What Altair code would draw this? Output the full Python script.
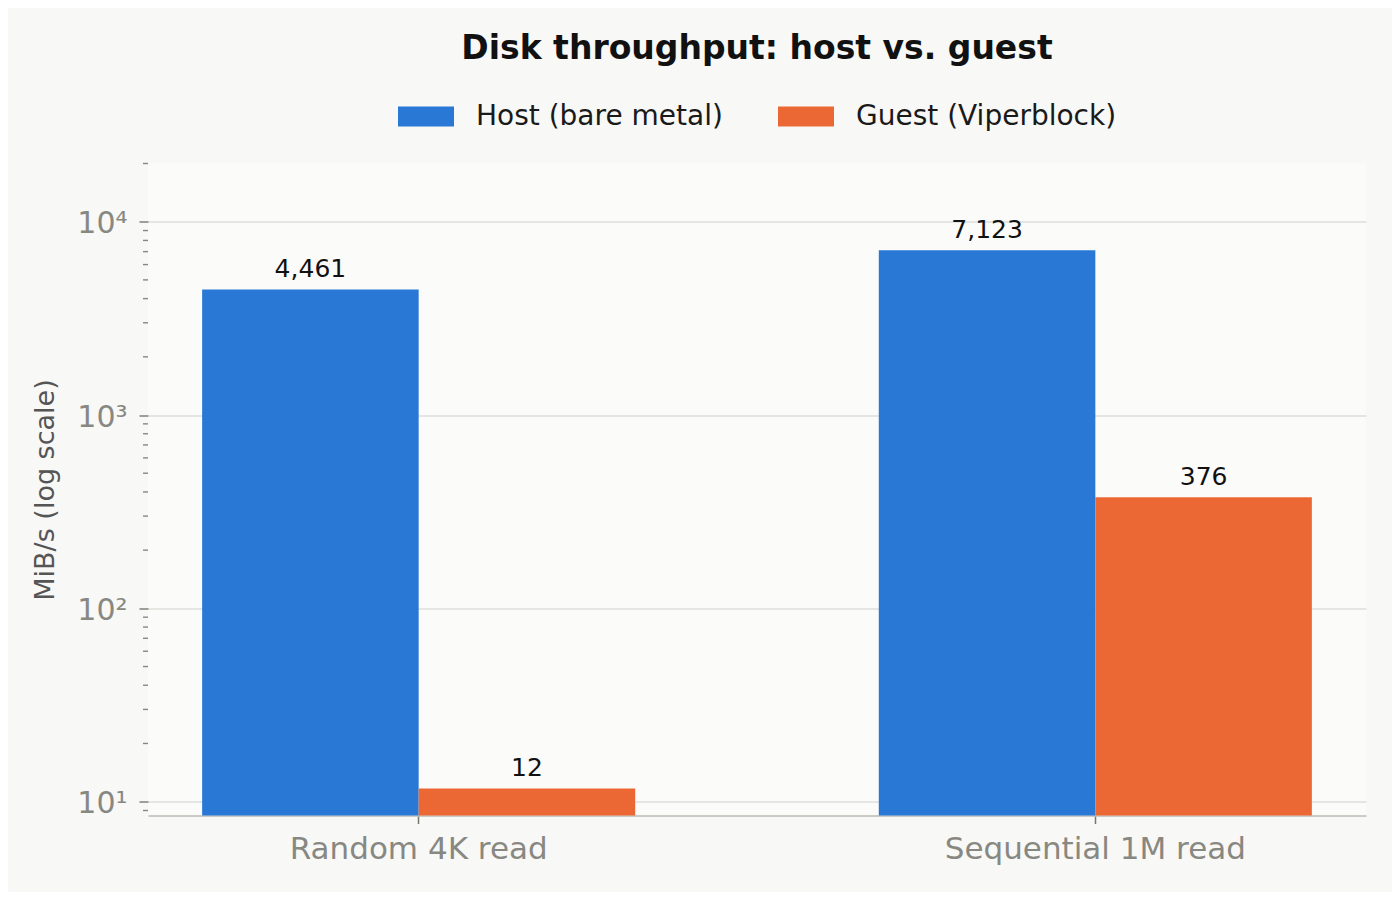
import pandas as pd
import altair as alt

# values
categories = ["Random 4K read", "Sequential 1M read"]
host_mib = [4461, 7123]
guest_mib = [11.7, 376]
series_names = ["Host (bare metal)", "Guest (Viperblock)"]
series_colors = ["#2978D6", "#EB6835"]

y_min, y_max = 8.48, 20000
major_ticks = [10, 100, 1000, 10000]
minor_ticks = [9, 20, 30, 40, 50, 60, 70, 80, 90,
               200, 300, 400, 500, 600, 700, 800, 900,
               2000, 3000, 4000, 5000, 6000, 7000, 8000, 9000, 20000]

FONT = "DejaVu Sans"

rows = []
for i, cat in enumerate(categories):
    rows.append({"test": cat, "series": series_names[0], "mib": host_mib[i]})
    rows.append({"test": cat, "series": series_names[1], "mib": guest_mib[i]})
data = pd.DataFrame(rows)
minor = pd.DataFrame({"v": minor_ticks})

y_scale = alt.Scale(type="log", domain=[y_min, y_max], nice=False)

x_enc = alt.X("test:N", sort=categories, title=None,
              scale=alt.Scale(paddingInner=0.36, paddingOuter=0.08),
              axis=alt.Axis(labelAngle=0, labelFontSize=31, labelColor="#888882",
                            labelFont=FONT, labelPadding=11, labelLimit=0,
                            domainColor="#BDBDB5", domainWidth=1.6,
                            tickColor="#77776F", tickSize=8, tickWidth=1.5,
                            grid=False))
xoff_enc = alt.XOffset("series:N", sort=series_names,
                       scale=alt.Scale(paddingInner=0, paddingOuter=0))

bars = alt.Chart(data).mark_bar().encode(
    x=x_enc,
    xOffset=xoff_enc,
    y=alt.Y("mib:Q", scale=y_scale, title="MiB/s (log scale)",
            axis=alt.Axis(values=major_ticks,
                          labelExpr="'10' + ['⁰','¹','²','³','⁴','⁵'][round(log(datum.value) / LN10)]",
                          labelFontSize=30, labelColor="#888882", labelFont=FONT,
                          labelPadding=12, labelOffset=2,
                          titleFontSize=27, titleColor="#555555", titleFont=FONT,
                          titleFontWeight="normal", titlePadding=17,
                          domain=False, tickColor="#888882", tickSize=9, tickWidth=1.6,
                          grid=True, gridColor="#DEDED9", gridWidth=1.5)),
    y2=alt.Y2(datum=y_min),
    color=alt.Color("series:N", sort=series_names,
                    scale=alt.Scale(domain=series_names, range=series_colors),
                    legend=alt.Legend(title=None, orient="none", direction="horizontal",
                                      legendX=250, legendY=-75,
                                      symbolType="M-1,-0.357H1V0.357H-1Z",
                                      symbolSize=3136, symbolStrokeWidth=0,
                                      symbolOpacity=1, labelLimit=0,
                                      labelFontSize=28, labelFont=FONT,
                                      labelColor="#1A1A1A", labelOffset=22,
                                      columnPadding=55)),
)

labels = alt.Chart(data).mark_text(
    baseline="alphabetic", dy=-12, fontSize=25, font=FONT, color="#111111"
).encode(
    x=alt.X("test:N", sort=categories),
    xOffset=xoff_enc,
    y=alt.Y("mib:Q", scale=y_scale),
    text=alt.Text("mib:Q", format=",.0f"),
)

minor_marks = alt.Chart(minor).mark_rule(color="#888882", strokeWidth=1.4).encode(
    y=alt.Y("v:Q", scale=y_scale),
    x=alt.value(-5),
    x2=alt.value(0),
)

chart = alt.layer(bars, labels, minor_marks).properties(
    width=1218,
    height=652,
    title=alt.TitleParams("Disk throughput: host vs. guest", fontSize=33,
                          font=FONT, fontWeight="bold", color="#111111",
                          anchor="middle", offset=23),
    autosize=alt.AutoSizeParams(type="none"),
    padding={"left": 140, "top": 155.5, "right": 26, "bottom": 76.5},
    background="#F8F8F6",
).configure_view(fill="#FBFBF9", stroke=None)

chart.save("out.html", embed_options={"renderer": "svg", "actions": False})
